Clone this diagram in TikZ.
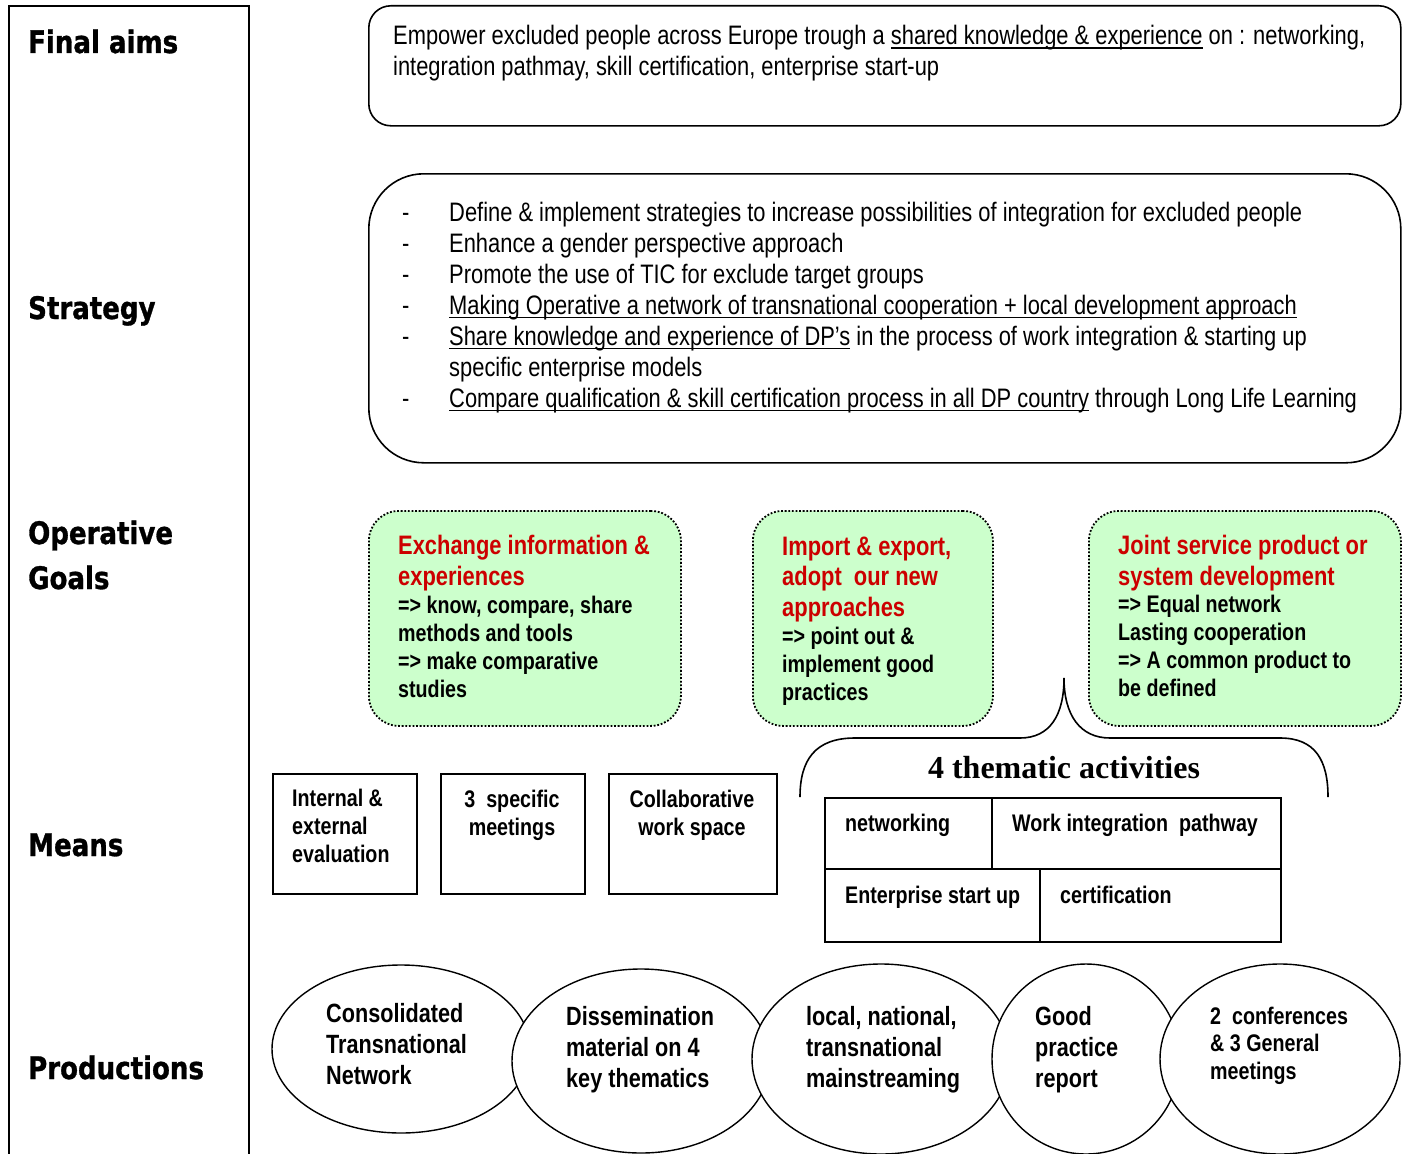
\documentclass[tikz,border=0pt]{standalone}
\usepackage{fontspec}
\setmainfont{Liberation Sans}
\newfontfamily\nar[FakeStretch=0.82]{Liberation Sans}
\newfontfamily\lab[FakeStretch=0.84,FakeBold=1]{DejaVu Sans}
\newfontfamily\ser{Liberation Serif}
\usetikzlibrary{shapes.geometric}
\definecolor{gfill}{HTML}{CCFFCC}
\definecolor{rtxt}{HTML}{CC0000}
\newcommand\myul[1]{\setbox0\hbox{#1}\rlap{\rule[-4.2pt]{\wd0}{1.7pt}}\box0\relax}
\begin{document}
\begin{tikzpicture}[x=1pt,y=-1pt,
  lbl/.style={font=\lab\bfseries\fontsize{31}{45}\selectfont, anchor=base west, inner sep=0, align=left},
  txt/.style={font=\nar\fontsize{26.7}{31}\selectfont, anchor=base west, inner sep=0, align=left},
  rbox/.style={draw, line width=1.6, anchor=north west},
  gbox/.style={draw, line width=1.8, dash pattern=on 1.8pt off 1.8pt, fill=gfill, rounded corners=30, anchor=north west, minimum width=312, minimum height=215},
  redt/.style={font=\nar\bfseries\fontsize{26.7}{30.5}\selectfont, text=rtxt, anchor=base west, inner sep=0, align=left},
  blkt/.style={font=\nar\bfseries\fontsize{24}{27.7}\selectfont, anchor=base west, inner sep=0, align=left},
  mbox/.style={draw, line width=1.8, anchor=north west, minimum height=120},
  ell/.style={draw, ellipse, line width=1.4, fill=white, inner sep=0},
  etxt/.style={font=\nar\bfseries\fontsize{26.4}{30.8}\selectfont, anchor=base west, inner sep=0, align=left}
]
\useasboundingbox (0,0) rectangle (1404,1153);
\fill[white] (0,0) rectangle (1404,1153);

% left column
\node[draw, line width=2, anchor=north west, minimum width=240, minimum height=1180, inner sep=0] (col) at (8,5) {};
\node[lbl] (lfinal) at (28,53) {Final aims};
\node[lbl] (lstrat) at (28,319) {Strategy};
\node[lbl] (lop) at (28,589) {Operative\\Goals};
\node[lbl] (lmeans) at (28,856) {Means};
\node[lbl] (lprod) at (28,1079) {Productions};

% final aims box
\node[rbox, rounded corners=22, minimum width=1032, minimum height=120] (aimsbox) at (368,5) {};
\node[txt] (aimstxt) at (393,76) {Empower excluded people across Europe trough a \myul{shared knowledge \& experience} on : networking,\\integration pathmay, skill certification, enterprise start-up};

% strategy box
\node[rbox, rounded corners=55, minimum width=1032, minimum height=289] (stratbox) at (368,173) {};
\node[txt] (dashes) at (402,407) {-\\-\\-\\-\\-\\\\-};
\node[txt] (strattxt) at (449,407) {Define \& implement strategies to increase possibilities of integration for excluded people\\
Enhance a gender perspective approach\\
Promote the use of TIC for exclude target groups\\
\myul{Making Operative a network of transnational cooperation + local development approach}\\
\myul{Share knowledge and experience of DP’s} in the process of work integration \& starting up\\
specific enterprise models\\
\myul{Compare qualification \& skill certification process in all DP country} through Long Life Learning};

% operative goals
\node[gbox] (g1) at (368,510) {};
\node[gbox, minimum width=240] (g2) at (752,510) {};
\node[gbox] (g3) at (1088,510) {};
\node[redt] (g1r) at (398,585) {Exchange information \&\\experiences};
\node[blkt] (g1b) at (398,697) {=> know, compare, share\\methods and tools\\=> make comparative\\studies};
\node[redt] (g2r) at (782,616) {Import \& export,\\adopt\ \ our new\\approaches};
\node[blkt] (g2b) at (782,700) {=> point out \&\\implement good\\practices};
\node[redt] (g3r) at (1118,585) {Joint service product or\\system development};
\node[blkt] (g3b) at (1118,696) {=> Equal network\\Lasting cooperation\\=> A common product to\\be defined};

% brace
\coordinate (bl) at (800,797);
\coordinate (bpeak) at (1064,678);
\coordinate (br) at (1328,797);
\draw[line width=1.6] (bl) .. controls (800,760) and (815,738) .. (855,738) -- (1020,738)
  .. controls (1050,738) and (1064,715) .. (bpeak)
  .. controls (1064,715) and (1080,738) .. (1110,738) -- (1280,738)
  .. controls (1315,738) and (1328,760) .. (br);
\node[font=\ser\bfseries\fontsize{32}{36}\selectfont, anchor=base, inner sep=0] (thema) at (1064,778) {4 thematic activities};

% means boxes
\node[mbox, minimum width=144] (m1) at (272,773) {};
\node[mbox, minimum width=144] (m2) at (440,773) {};
\node[mbox, minimum width=168] (m3) at (608,773) {};
\node[blkt] (m1t) at (292,862) {Internal \&\\external\\evaluation};
\node[blkt, anchor=base, align=center] (m2t) at (512,835) {3\ \ specific\\meetings};
\node[blkt, anchor=base, align=center] (m3t) at (692,835) {Collaborative\\work space};

% table
\node[draw, line width=1.8, anchor=north west, minimum width=456, minimum height=144, inner sep=0] (tab) at (824,797) {};
\coordinate (tmidl) at (824,869);
\coordinate (tmidr) at (1280,869);
\draw[line width=1.8] (tmidl) -- (tmidr);
\draw[line width=1.8] (992,797) -- (992,869);
\draw[line width=1.8] (1040,869) -- (1040,941);
\node[blkt] (t1) at (845,831) {networking};
\node[blkt] (t2) at (1012,831) {Work integration\ \ pathway};
\node[blkt] (t3) at (845,903) {Enterprise start up};
\node[blkt] (t4) at (1060,903) {certification};

% productions
\node[ell, minimum width=258, minimum height=168] (p1) at (401,1049) {};
\node[ell, minimum width=258, minimum height=184] (p2) at (641,1061) {};
\node[ell, minimum width=258, minimum height=190] (p3) at (881,1059) {};
\node[ell, minimum width=188, minimum height=190] (p4) at (1086,1059) {};
\node[ell, minimum width=240, minimum height=190] (p5) at (1280,1059) {};
\node[etxt] (p1t) at (326,1084) {Consolidated\\Transnational\\Network};
\node[etxt] (p2t) at (566,1087) {Dissemination\\material on 4\\key thematics};
\node[etxt] (p3t) at (806,1087) {local, national,\\transnational\\mainstreaming};
\node[etxt] (p4t) at (1035,1087) {Good\\practice\\report};
\node[blkt, font=\nar\bfseries\fontsize{24}{27.5}\selectfont] (p5t) at (1210,1079) {2\ \ conferences\\\& 3 General\\meetings};
\end{tikzpicture}
\end{document}
